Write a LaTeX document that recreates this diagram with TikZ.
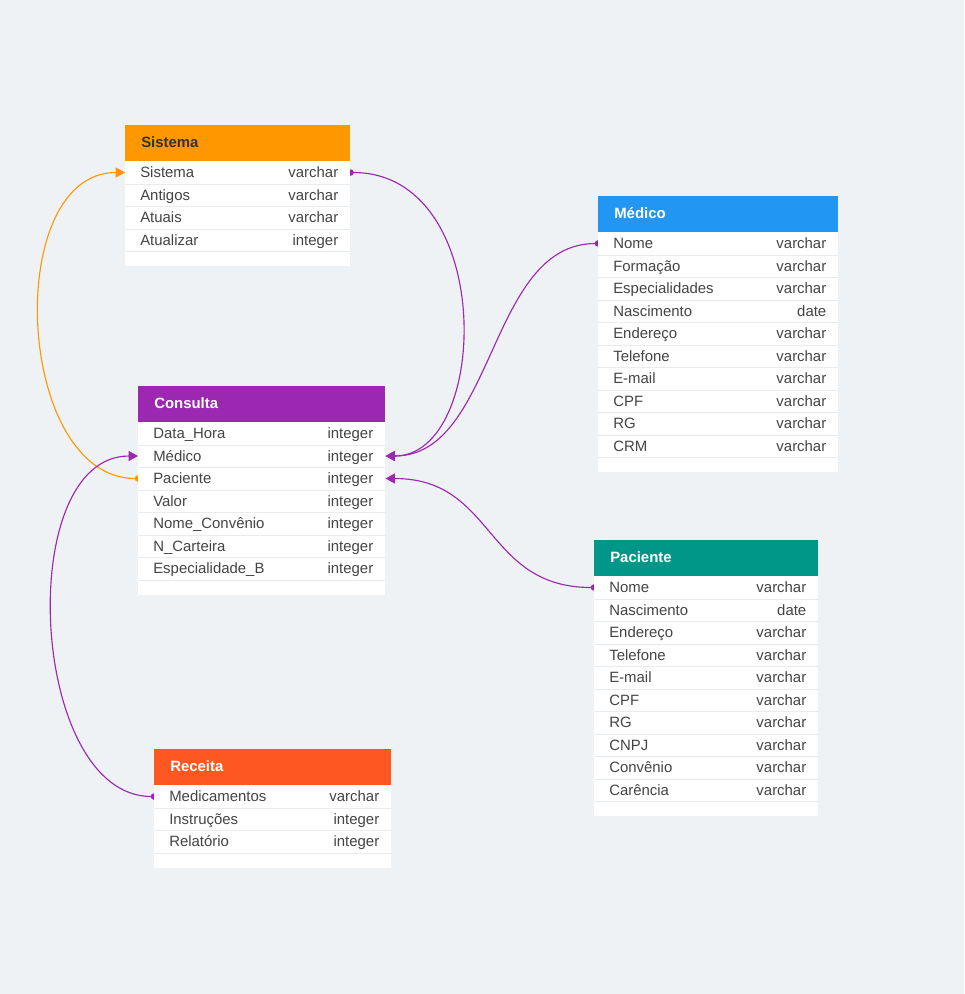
\documentclass[tikz,border=0pt]{standalone}
\usepackage{fontspec}
\setmainfont{Liberation Sans}
\usetikzlibrary{arrows.meta}
\pgfdeclarelayer{bottom}
\pgfdeclarelayer{back}
\pgfsetlayers{bottom,back,main}
\definecolor{bg}{HTML}{EEF2F5}
\definecolor{txt}{HTML}{444444}
\definecolor{sep}{HTML}{E9ECEF}
\definecolor{corange}{HTML}{FF9800}
\definecolor{cpurple}{HTML}{9C27B0}
\definecolor{cblue}{HTML}{2196F3}
\definecolor{cteal}{HTML}{009688}
\definecolor{cdeep}{HTML}{FF5722}
\definecolor{dark}{HTML}{333333}
\tikzset{
  hdr/.style={rectangle, inner sep=0, minimum height=27pt, anchor=north west},
  hdrtext/.style={anchor=west, inner sep=0, text height=8.2pt, text depth=2.4pt, font=\fontsize{11.2}{13}\bfseries\selectfont},
  bodybox/.style={rectangle, fill=white, inner sep=0, anchor=north west},
  rowcell/.style={rectangle, inner sep=0, minimum height=16.875pt, anchor=north west},
  fname/.style={anchor=west, text=txt, inner sep=0, text height=8.2pt, text depth=2.4pt, font=\fontsize{11.2}{13}\selectfont},
  ftype/.style={anchor=east, text=txt, inner sep=0, text height=8.2pt, text depth=2.4pt, font=\fontsize{11.2}{13}\selectfont},
  conn/.style={line width=0.85pt, shorten <=-2.4pt, {Circle[length=4.8pt]}-{Triangle[length=7pt,width=7.5pt]}},
}
% #1 name, #2 x, #3 y, #4 width, #5 header fill, #6 title colour, #7 title, #8 rows count, #9 rows
\newcommand\erdtab[9]{%
  \node[hdr, fill=#5, minimum width=#4*0.75pt] (#1) at (#2,#3) {};
  \node[hdrtext, text=#6] (#1-title) at ([xshift=12pt,yshift=-0.6pt]#1.west) {#7};
  \node[bodybox, minimum width=#4*0.75pt, minimum height=(#8*22.5+15)*0.75pt] (#1-body) at ({#2},{#3+36}) {};
  \foreach \fn/\ft [count=\i] in {#9} {
    \node[rowcell, minimum width=#4*0.75pt] (#1-\i) at ({#2},{#3+36+(\i-1)*22.5}) {};
    \draw[sep, line width=0.75pt] (#1-\i.south west) -- (#1-\i.south east);
    \node[fname] at ([xshift=11.25pt,yshift=-1pt]#1-\i.west) {\fn};
    \node[ftype] at ([xshift=-9pt,yshift=-1pt]#1-\i.east) {\ft};
  }
}
\begin{document}
\begin{tikzpicture}[x=0.75pt,y=-0.75pt]
\begin{pgfonlayer}{bottom}
\fill[bg] (0,0) rectangle (964,994);
\end{pgfonlayer}
\useasboundingbox (0,0) rectangle (964,994);

\erdtab{sistema}{125}{125}{225}{corange}{dark}{Sistema}{4}{Sistema/varchar, Antigos/varchar, Atuais/varchar, Atualizar/integer}
\erdtab{consulta}{138}{386}{247}{cpurple}{white}{Consulta}{7}{Data\_Hora/integer, Médico/integer, Paciente/integer, Valor/integer, Nome\_Convênio/integer, N\_Carteira/integer, Especialidade\_B/integer}
\erdtab{medico}{598}{196}{240}{cblue}{white}{Médico}{10}{Nome/varchar, Formação/varchar, Especialidades/varchar, Nascimento/date, Endereço/varchar, Telefone/varchar, E-mail/varchar, CPF/varchar, RG/varchar, CRM/varchar}
\erdtab{paciente}{594}{540}{224}{cteal}{white}{Paciente}{10}{Nome/varchar, Nascimento/date, Endereço/varchar, Telefone/varchar, E-mail/varchar, CPF/varchar, RG/varchar, CNPJ/varchar, Convênio/varchar, Carência/varchar}
\erdtab{receita}{154}{749}{237}{cdeep}{white}{Receita}{3}{Medicamentos/varchar, Instruções/integer, Relatório/integer}

% connectors
\begin{pgfonlayer}{back}
\draw[conn, corange] (consulta-3.west) .. controls +(-123,0) and +(-123,0) .. (sistema-1.west);
\draw[conn, cpurple] (sistema-1.east) .. controls +(146,0) and +(105,0) .. (consulta-2.east);
\draw[conn, cpurple] (medico-1.west) .. controls +(-110,0) and +(110,0) .. (consulta-2.east);
\draw[conn, cpurple] (paciente-1.west) .. controls +(-110,0) and +(110,0) .. (consulta-3.east);
\draw[conn, cpurple] (receita-1.west) .. controls +(-125,0) and +(-125,0) .. (consulta-2.west);
\end{pgfonlayer}
\end{tikzpicture}
\end{document}
